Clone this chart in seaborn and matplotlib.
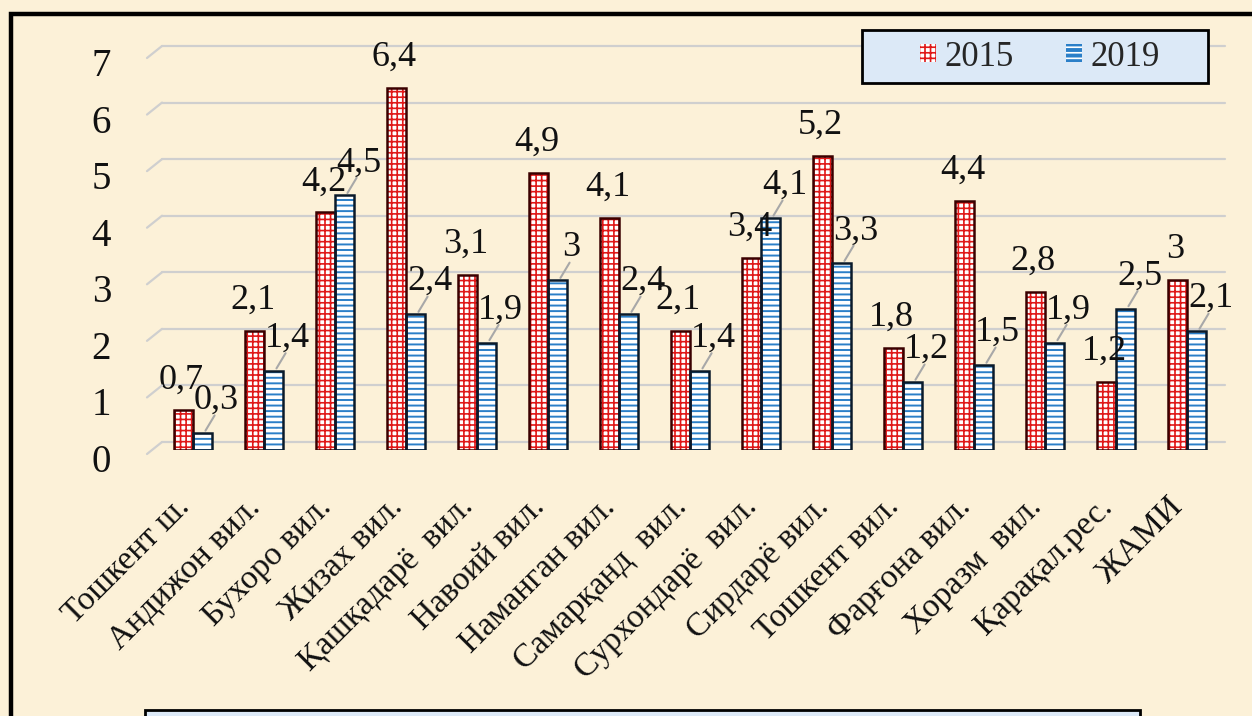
import numpy as np
import pandas as pd
import seaborn as sns
import matplotlib.pyplot as plt
import matplotlib.transforms as mtrans
from matplotlib.lines import Line2D
from matplotlib.patches import Patch, Rectangle

# data
regions = ["Тошкент ш.", "Андижон вил.", "Бухоро вил.", "Жизах вил.", "Қашқадарё  вил.",
           "Навоий вил.", "Наманган вил.", "Самарқанд  вил.", "Сурхондарё  вил.", "Сирдарё вил.",
           "Тошкент вил.", "Фарғона вил.", "Хоразм  вил.", "Қарақал.рес.", "ЖАМИ"]
vals_2015 = [0.7, 2.1, 4.2, 6.4, 3.1, 4.9, 4.1, 2.1, 3.4, 5.2, 1.8, 4.4, 2.8, 1.2, 3.0]
vals_2019 = [0.3, 1.4, 4.5, 2.4, 1.9, 3.0, 2.4, 1.4, 4.1, 3.3, 1.2, 1.5, 1.9, 2.5, 2.1]
years = ["2015", "2019"]
y_ticks = [0, 1, 2, 3, 4, 5, 6, 7]

df = pd.DataFrame({
    "region": regions * 2,
    "year": [years[0]] * len(regions) + [years[1]] * len(regions),
    "value": vals_2015 + vals_2019,
})

def fmt(v):
    # decimal comma, integers without decimals
    return str(int(v)) if v == int(v) else f"{v:.1f}".replace(".", ",")

def px(x, y):
    return mtrans.ScaledTranslation(x / 100, y / 100, fig.dpi_scale_trans)

bg = "#FCF1D8"
blue = "#2B7FC8"
red = "#E01818"
grid_c = "#CFCFCF"

sns.set_theme(style="white")
plt.rcParams["font.family"] = ["Liberation Serif", "DejaVu Serif"]
plt.rcParams["hatch.linewidth"] = 1.2

fig = plt.figure(figsize=(12.52, 7.16), dpi=100, facecolor=bg)
# bars sit in the front plane: base ~450 px, 7 -> ~54 px
ax = fig.add_axes([150 / 1252, 1 - 450 / 716, (1213 - 150) / 1252, (450 - 54) / 716])
ax.set_facecolor("none")

sns.barplot(data=df, x="region", y="value", hue="year", order=regions, hue_order=years,
            palette=["white", blue], width=0.54, saturation=1, legend=False, ax=ax)

# pattern fills: red grid for 2015, white stripes for 2019
for bar in ax.containers[0]:
    bar.set_facecolor("white")
    bar.set_edgecolor(red)
    bar.set_hatch("+++")
    bar.set_linewidth(0)
for bar in ax.containers[1]:
    bar.set_facecolor(blue)
    bar.set_edgecolor("white")
    bar.set_hatch("---")
    bar.set_linewidth(0)
    if hasattr(bar, "set_hatch_linewidth"):
        bar.set_hatch_linewidth(2.6)

# black outlines on top
sns.barplot(data=df, x="region", y="value", hue="year", order=regions, hue_order=years,
            palette=["#3a0000", "#0a1a2a"], width=0.54, fill=False, linewidth=1.8,
            legend=False, ax=ax)

# value labels
for bar, v in zip(ax.containers[0], vals_2015):
    ax.annotate(fmt(v), (bar.get_x() + bar.get_width() / 2, bar.get_height()),
                xytext=(-2, 14), textcoords="offset pixels", ha="center", va="bottom",
                fontsize=26, color="#111111")
for bar, v in zip(ax.containers[1], vals_2019):
    x = bar.get_x() + bar.get_width() / 2
    ax.annotate(fmt(v), (x, v), xytext=(14, 16), textcoords="offset pixels",
                ha="center", va="bottom", fontsize=26, color="#111111")
    ax.annotate("", (x + 0.02, v), xytext=(12, 20), textcoords="offset pixels",
                arrowprops=dict(arrowstyle="-", color="#A8A8A8", lw=1.5))

ax.set_ylim(0, 7)
ax.set_xlim(-0.606, 14.366)
ax.set_yticks(y_ticks)
ax.yaxis.grid(True, color=grid_c, lw=1.6)
ax.set_axisbelow(True)
for s in ax.spines.values():
    s.set_visible(False)
ax.set_xlabel("")
ax.set_ylabel("")
ax.tick_params(axis="y", length=0, pad=28, labelsize=28, labelcolor="#111111")
ax.tick_params(axis="x", length=0, pad=14, labelsize=24, labelcolor="#111111")
ax.set_xticks(range(len(regions)))
ax.set_xticklabels(regions, rotation=45, ha="right", va="top", rotation_mode="anchor")

# 3D look: back-wall gridlines sit up-right, tick labels a bit lower
for gl in ax.get_ygridlines():
    gl.set_transform(gl.get_transform() + px(12, 8))
    gl.set_clip_on(False)
for lbl in ax.get_yticklabels():
    lbl.set_transform(lbl.get_transform() + px(0, -8))
for lbl in ax.get_xticklabels():
    lbl.set_transform(lbl.get_transform() + px(-19, -22))

# short slanted floor segments joining each gridline to the left edge
x_left = ax.get_xlim()[0]
for t in y_ticks:
    x0, y0 = ax.transData.transform((x_left, t))
    fig.add_artist(Line2D([x0 - 3, x0 + 12], [y0 - 4, y0 + 8], transform=mtrans.IdentityTransform(),
                          color=grid_c, lw=1.6))

# legend: fixed light-blue box with centred entries
fig.add_artist(Rectangle((862 / 1252, 1 - 83 / 716), 346 / 1252, 53 / 716,
                         transform=fig.transFigure, facecolor="#DCE9F7", edgecolor="black", lw=2))
handles = [Patch(facecolor="white", edgecolor=red, hatch="+++", label=years[0]),
           Patch(facecolor=blue, edgecolor="white", hatch="---", label=years[1])]
leg = fig.legend(handles=handles, loc="center", bbox_to_anchor=(1040 / 1252, 1 - 57 / 716),
                 ncol=2, fontsize=25, frameon=False, handlelength=0.45, handleheight=0.45,
                 handletextpad=0.25, columnspacing=1.5, borderpad=0, borderaxespad=0)
for h in leg.legend_handles:
    h.set_linewidth(0)

# outer frame and empty caption box at the bottom
fig.add_artist(Rectangle((11 / 1252, -0.1), 2, 1 - 14 / 716 + 0.1, transform=fig.transFigure,
                         fill=False, edgecolor="black", lw=3.2, clip_on=False))
fig.add_artist(Rectangle((145 / 1252, -0.05), (1140 - 145) / 1252, (716 - 710) / 716 + 0.05,
                         transform=fig.transFigure, facecolor="#DCE9F7", edgecolor="black",
                         lw=2, clip_on=False))

fig.savefig("out.png", dpi=100, facecolor=bg)
